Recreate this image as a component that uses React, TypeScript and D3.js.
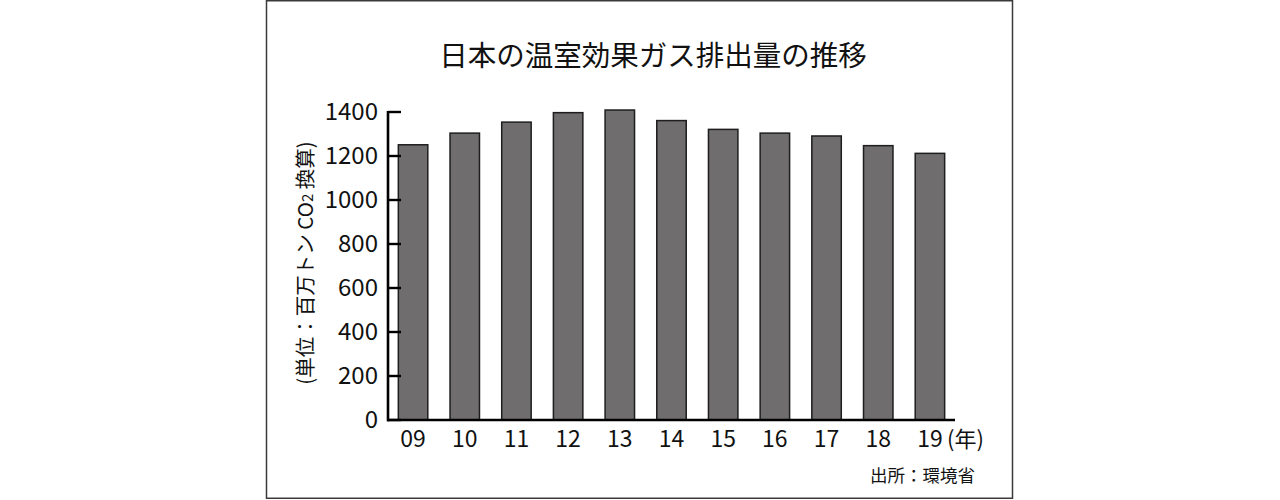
import React from "react";
import * as d3 from "d3";

const years = ["09", "10", "11", "12", "13", "14", "15", "16", "17", "18", "19"];
const emissions = [1251, 1304, 1354, 1397, 1409, 1361, 1321, 1304, 1291, 1247, 1212];
const yTicks = [0, 200, 400, 600, 800, 1000, 1200, 1400];
const titleText = "日本の温室効果ガス排出量の推移";
const sourceText = "出所：環境省";
const yearUnit = "(年)";

const FONT = "'Noto Sans CJK JP', 'Noto Sans', sans-serif";

export default function App() {
  const x = d3.scaleBand<string>().domain(years).range([388, 955]).paddingInner(0.43).paddingOuter(0.2);
  const y = d3.scaleLinear().domain([0, 1400]).range([420, 112]);

  return (
    <svg width={1280} height={500} style={{ position: "absolute", left: 0, top: 0, background: "#fff" }} fontFamily={FONT}>
      <rect x={266.5} y={0.75} width={746} height={497.5} fill="none" stroke="#3a3a3a" strokeWidth={1.5} />
      <text x={653} y={66} textAnchor="middle" fontSize={28.5} fill="#111">{titleText}</text>

      {years.map((yr, i) => (
        <rect key={yr} x={x(yr)!} y={y(emissions[i])} width={x.bandwidth()} height={y(0) - y(emissions[i])}
          fill="#6f6d6e" stroke="#1e1e1e" strokeWidth={1.5} />
      ))}

      {/* y axis */}
      <line x1={388} x2={388} y1={y(1400) - 1} y2={y(0) + 1.2} stroke="#000" strokeWidth={2.6} />
      {yTicks.map((t) => (
        <g key={t}>
          <line x1={388} x2={401} y1={y(t)} y2={y(t)} stroke="#000" strokeWidth={2.4} />
          <text x={378} y={y(t)} dy="0.35em" textAnchor="end" fontSize={24} fill="#111">{t}</text>
        </g>
      ))}
      {/* x axis */}
      <line x1={387} x2={955} y1={y(0)} y2={y(0)} stroke="#000" strokeWidth={2.6} />
      {years.map((yr) => (
        <text key={yr} x={x(yr)! + x.bandwidth() / 2} y={447} textAnchor="middle" fontSize={23} fill="#111">{yr}</text>
      ))}
      <text x={947} y={447} fontSize={22} fill="#111">{yearUnit}</text>
      <text x={870} y={482} fontSize={17.5} fill="#111">{sourceText}</text>

      <text transform="translate(313,263) rotate(-90)" textAnchor="middle" fontSize={20.5} fill="#111">
        (単位：百万トン CO<tspan fontSize={15}>2</tspan> 換算)
      </text>
    </svg>
  );
}
